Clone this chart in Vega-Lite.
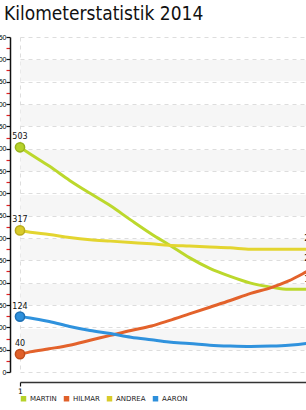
{
  "$schema": "https://vega.github.io/schema/vega-lite/v6.json",
  "autosize": {"type": "none"},
  "width": 286,
  "height": 335,
  "padding": {"left": 20, "top": 37, "right": 0, "bottom": 38},
  "background": "white",
  "title": {"text": "Kilometerstatistik 2014", "anchor": "start", "frame": "group", "font": "DejaVu Sans Condensed, sans-serif", "fontSize": 19, "fontWeight": "normal", "color": "#111111", "dx": -16, "offset": 9},
  "config": {"view": {"stroke": null}},
  "data": {"values": [
    {"name": "Martin", "x": 1, "km": 503}, {"name": "Martin", "x": 1.035, "km": 488}, {"name": "Martin", "x": 1.1, "km": 461}, {"name": "Martin", "x": 1.17, "km": 429}, {"name": "Martin", "x": 1.24, "km": 400}, {"name": "Martin", "x": 1.31, "km": 372}, {"name": "Martin", "x": 1.38, "km": 340}, {"name": "Martin", "x": 1.45, "km": 309}, {"name": "Martin", "x": 1.51, "km": 285}, {"name": "Martin", "x": 1.58, "km": 256}, {"name": "Martin", "x": 1.65, "km": 232}, {"name": "Martin", "x": 1.72, "km": 214}, {"name": "Martin", "x": 1.79, "km": 199}, {"name": "Martin", "x": 1.86, "km": 190}, {"name": "Martin", "x": 1.92, "km": 185}, {"name": "Martin", "x": 1.98, "km": 185}, {"name": "Martin", "x": 2, "km": 184},
    {"name": "Hilmar", "x": 1, "km": 40}, {"name": "Hilmar", "x": 1.035, "km": 45}, {"name": "Hilmar", "x": 1.1, "km": 52}, {"name": "Hilmar", "x": 1.17, "km": 60}, {"name": "Hilmar", "x": 1.24, "km": 71}, {"name": "Hilmar", "x": 1.31, "km": 82}, {"name": "Hilmar", "x": 1.38, "km": 93}, {"name": "Hilmar", "x": 1.45, "km": 103}, {"name": "Hilmar", "x": 1.51, "km": 115}, {"name": "Hilmar", "x": 1.58, "km": 130}, {"name": "Hilmar", "x": 1.65, "km": 145}, {"name": "Hilmar", "x": 1.72, "km": 160}, {"name": "Hilmar", "x": 1.79, "km": 176}, {"name": "Hilmar", "x": 1.86, "km": 189}, {"name": "Hilmar", "x": 1.92, "km": 204}, {"name": "Hilmar", "x": 1.98, "km": 224}, {"name": "Hilmar", "x": 2, "km": 231},
    {"name": "Andrea", "x": 1, "km": 317}, {"name": "Andrea", "x": 1.035, "km": 313}, {"name": "Andrea", "x": 1.1, "km": 308}, {"name": "Andrea", "x": 1.17, "km": 301}, {"name": "Andrea", "x": 1.24, "km": 296}, {"name": "Andrea", "x": 1.31, "km": 293}, {"name": "Andrea", "x": 1.38, "km": 290}, {"name": "Andrea", "x": 1.45, "km": 287}, {"name": "Andrea", "x": 1.51, "km": 284}, {"name": "Andrea", "x": 1.58, "km": 282}, {"name": "Andrea", "x": 1.65, "km": 280}, {"name": "Andrea", "x": 1.72, "km": 278}, {"name": "Andrea", "x": 1.79, "km": 275}, {"name": "Andrea", "x": 1.86, "km": 275}, {"name": "Andrea", "x": 1.92, "km": 275}, {"name": "Andrea", "x": 1.98, "km": 275}, {"name": "Andrea", "x": 2, "km": 276},
    {"name": "Aaron", "x": 1, "km": 124}, {"name": "Aaron", "x": 1.035, "km": 121}, {"name": "Aaron", "x": 1.1, "km": 113}, {"name": "Aaron", "x": 1.17, "km": 102}, {"name": "Aaron", "x": 1.24, "km": 93}, {"name": "Aaron", "x": 1.31, "km": 86}, {"name": "Aaron", "x": 1.38, "km": 78}, {"name": "Aaron", "x": 1.45, "km": 72}, {"name": "Aaron", "x": 1.51, "km": 67}, {"name": "Aaron", "x": 1.58, "km": 64}, {"name": "Aaron", "x": 1.65, "km": 60}, {"name": "Aaron", "x": 1.72, "km": 58}, {"name": "Aaron", "x": 1.79, "km": 57}, {"name": "Aaron", "x": 1.86, "km": 58}, {"name": "Aaron", "x": 1.92, "km": 60}, {"name": "Aaron", "x": 1.98, "km": 64}, {"name": "Aaron", "x": 2, "km": 66}
  ]},
  "encoding": {
    "x": {"field": "x", "type": "quantitative", "scale": {"domain": [1, 1.9795], "nice": false, "zero": false},
      "axis": {"title": null, "offset": 10, "values": [1], "format": "d", "labelFont": "DejaVu Sans", "labelFontSize": 7.5, "labelColor": "#000000", "labelPadding": 1, "labelFlush": false, "tickSize": 4, "tickColor": "#111111", "tickWidth": 1.2, "domainColor": "#333333", "domainWidth": 1.5, "grid": true, "gridColor": "#dddddd", "gridDash": [4, 4]}},
    "y": {"field": "km", "type": "quantitative", "scale": {"domain": [0, 750], "nice": false},
      "axis": {"title": null, "offset": 10,
        "values": [0, 25, 50, 75, 100, 125, 150, 175, 200, 225, 250, 275, 300, 325, 350, 375, 400, 425, 450, 475, 500, 525, 550, 575, 600, 625, 650, 675, 700, 725, 750],
        "labelExpr": "datum.value % 50 === 0 ? datum.label : ''",
        "labelOverlap": false, "labelBound": false,
        "labelFont": "Liberation Sans", "labelFontSize": 7, "labelColor": "#000000", "labelPadding": 0,
        "tickSize": 4, "tickWidth": 1.2,
        "tickColor": {"condition": {"test": "datum.value % 50 !== 0", "value": "#e02020"}, "value": "#111111"},
        "domainColor": "#111111", "domainWidth": 1.5,
        "grid": true,
        "gridColor": {"condition": {"test": "datum.value % 100 === 75", "value": "#f6f6f6"}, "value": "#dddddd"},
        "gridWidth": {"condition": {"test": "datum.value % 100 === 75", "value": 21}, "value": 1},
        "gridDash": {"condition": {"test": "datum.value % 50 !== 0", "value": []}, "value": [4, 4]},
        "gridOpacity": {"condition": {"test": "datum.value % 100 === 25", "value": 0}, "value": 1}
      }}
  },
  "layer": [
    {
      "mark": {"type": "line", "strokeWidth": 3, "interpolate": "monotone"},
      "encoding": {
        "color": {"field": "name", "type": "nominal", "scale": {"domain": ["Martin", "Hilmar", "Andrea", "Aaron"], "range": ["#bcd82c", "#e3622b", "#e3d530", "#2f92dd"]},
          "legend": {"orient": "none", "legendX": 0, "legendY": 358, "direction": "horizontal", "title": null, "symbolType": "square", "symbolSize": 30, "symbolStrokeWidth": 0, "symbolOpacity": 1, "labelFont": "DejaVu Sans", "labelFontSize": 7, "labelColor": "#222222", "labelExpr": "upper(datum.label)", "columnPadding": 6, "labelOffset": 3, "padding": 0,
            "encode": {"symbols": {"update": {"fill": {"scale": "color", "field": "value"}, "stroke": {"value": "transparent"}, "strokeWidth": {"value": 0}}}}}},
        "detail": {"field": "name"}
      }
    },
    {
      "transform": [{"filter": "datum.x === 1 || datum.x === 2"}],
      "mark": {"type": "circle", "size": 85, "strokeWidth": 1.5, "opacity": 1},
      "encoding": {
        "fill": {"field": "name", "type": "nominal", "scale": {"domain": ["Martin", "Hilmar", "Andrea", "Aaron"], "range": ["#b6d22a", "#e0602a", "#d9cb2a", "#2d8fdb"]}, "legend": null},
        "stroke": {"field": "name", "type": "nominal", "scale": {"domain": ["Martin", "Hilmar", "Andrea", "Aaron"], "range": ["#98b31c", "#c04c1a", "#b9ab1c", "#1e70b4"]}, "legend": null}
      }
    },
    {
      "transform": [{"filter": "datum.x === 1 || datum.x === 2"}],
      "mark": {"type": "text", "dy": -10, "font": "DejaVu Sans", "fontSize": 8, "color": "#111111"},
      "encoding": {"text": {"field": "km", "type": "quantitative", "format": "d"}}
    }
  ]
}
